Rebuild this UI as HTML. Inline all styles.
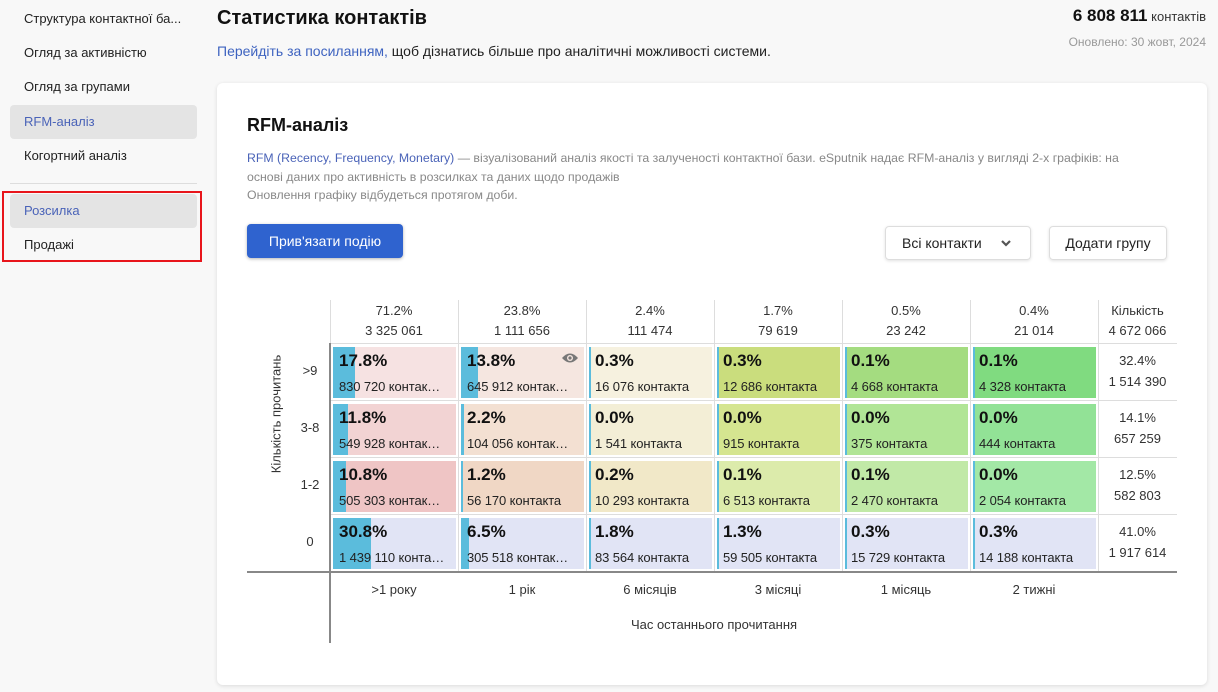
<!DOCTYPE html>
<html><head><meta charset="utf-8"><style>
*{margin:0;padding:0;box-sizing:border-box}
body{width:1218px;height:692px;background:#f8f8f8;font-family:"Liberation Sans",Arial,sans-serif;color:#222;position:relative;overflow:hidden}
.a{position:absolute;white-space:nowrap}
.nav{position:absolute;left:10px;width:187px;height:34px;font-size:13px;padding:9px 0 0 14px;color:#222}
.card{position:absolute;left:217px;top:83px;width:990px;height:602px;background:#fff;border-radius:6px;box-shadow:0 1px 4px rgba(0,0,0,.12)}
.c{position:absolute;width:123px;height:51px;overflow:hidden}
.c i{position:absolute;left:0;top:0;bottom:0;background:#5bbcdc;min-width:2px}
.c b{position:absolute;left:6px;top:4px;font-size:17px;font-weight:bold;color:#111}
.c s{position:absolute;left:6px;top:32px;font-size:13px;text-decoration:none;color:#222;letter-spacing:-0.1px}
.hd{position:absolute;width:128px;text-align:center;font-size:13px;line-height:20px;color:#333;top:301px}
.rl{position:absolute;left:290px;width:40px;text-align:center;font-size:13px;color:#333}
.vl{position:absolute;width:1px;background:#ddd}
.hl{position:absolute;height:1px;background:#ddd}
.tot{position:absolute;left:1098px;width:79px;text-align:center;font-size:13px;line-height:21px;color:#333}
.xl{position:absolute;top:582px;width:128px;text-align:center;font-size:13px;color:#333}
</style></head><body>
<div class="nav" style="top:2px">Структура контактної ба...</div>
<div class="nav" style="top:36px">Огляд за активністю</div>
<div class="nav" style="top:70px">Огляд за групами</div>
<div class="nav" style="top:105px;background:#e4e4e4;border-radius:4px;color:#4a63b8">RFM-аналіз</div>
<div class="nav" style="top:139px">Когортний аналіз</div>
<div class="a" style="left:10px;top:183px;width:187px;height:1px;background:#ddd"></div>
<div class="nav" style="top:194px;background:#e4e4e4;border-radius:4px;color:#4a63b8">Розсилка</div>
<div class="nav" style="top:228px">Продажі</div>
<div class="a" style="left:2px;top:191px;width:200px;height:71px;border:2px solid #e8151b"></div>

<div class="a" style="left:217px;top:7px;font-size:20px;font-weight:bold;color:#111">Статистика контактів</div>
<div class="a" style="left:217px;top:43px;font-size:14px;color:#222"><span style="color:#3e63c0">Перейдіть за посиланням,</span> щоб дізнатись більше про аналітичні можливості системи.</div>
<div class="a" style="right:12px;top:6px;font-size:13px;color:#333"><b style="font-size:17px;color:#111">6 808 811</b> контактів</div>
<div class="a" style="right:12px;top:35px;font-size:12px;color:#999">Оновлено: 30 жовт, 2024</div>

<div class="card"></div>
<div class="a" style="left:247px;top:115px;font-size:18px;font-weight:bold;color:#111">RFM-аналіз</div>
<div class="a" style="left:247px;top:149px;font-size:12.3px;line-height:18.5px;color:#888"><span style="color:#4a63b8">RFM (Recency, Frequency, Monetary)</span> — візуалізований аналіз якості та залученості контактної бази. eSputnik надає RFM-аналіз у вигляді 2-х графіків: на<br>основі даних про активність в розсилках та даних щодо продажів<br>Оновлення графіку відбудеться протягом доби.</div>
<div class="a" style="left:247px;top:224px;width:156px;height:34px;background:#2f63cf;border-radius:4px;color:#fff;font-size:14px;text-align:center;line-height:34px;box-shadow:0 1px 3px rgba(0,0,0,.3)">Прив'язати подію</div>
<div class="a" style="left:885px;top:226px;width:146px;height:34px;border:1px solid #ddd;border-radius:4px;font-size:14px;line-height:32px;padding-left:16px;box-shadow:0 1px 3px rgba(0,0,0,.12)">Всі контакти
<svg style="position:absolute;left:114px;top:12px" width="12" height="8" viewBox="0 0 12 8"><path d="M2 2 L6 6 L10 2" stroke="#555" stroke-width="2.2" fill="none"/></svg></div>
<div class="a" style="left:1049px;top:226px;width:118px;height:34px;border:1px solid #ddd;border-radius:4px;font-size:14px;line-height:32px;text-align:center;box-shadow:0 1px 3px rgba(0,0,0,.12)">Додати групу</div>

<!-- grid lines -->
<div class="vl" style="left:458px;top:300px;height:271px"></div>
<div class="vl" style="left:586px;top:300px;height:271px"></div>
<div class="vl" style="left:714px;top:300px;height:271px"></div>
<div class="vl" style="left:842px;top:300px;height:271px"></div>
<div class="vl" style="left:970px;top:300px;height:271px"></div>
<div class="vl" style="left:1098px;top:300px;height:271px"></div>
<div class="vl" style="left:330px;top:300px;height:43px"></div>
<div class="hl" style="left:330px;top:343px;width:847px"></div>
<div class="hl" style="left:330px;top:400px;width:847px"></div>
<div class="hl" style="left:330px;top:457px;width:847px"></div>
<div class="hl" style="left:330px;top:514px;width:847px"></div>
<div class="a" style="left:329px;top:343px;width:2px;height:300px;background:#888"></div>
<div class="a" style="left:247px;top:571px;width:930px;height:2px;background:#888"></div>

<div class="hd" style="left:330px">71.2%<br>3 325 061</div>
<div class="hd" style="left:458px">23.8%<br>1 111 656</div>
<div class="hd" style="left:586px">2.4%<br>111 474</div>
<div class="hd" style="left:714px">1.7%<br>79 619</div>
<div class="hd" style="left:842px">0.5%<br>23 242</div>
<div class="hd" style="left:970px">0.4%<br>21 014</div>
<div class="hd" style="left:1098px;width:79px">Кількість<br>4 672 066</div>

<div class="a" style="left:276px;top:414px;transform:translate(-50%,-50%) rotate(-90deg);font-size:13px;color:#333">Кількість прочитань</div>
<div class="rl" style="top:363px">&gt;9</div>
<div class="rl" style="top:420px">3-8</div>
<div class="rl" style="top:477px">1-2</div>
<div class="rl" style="top:534px">0</div>

<div class="tot" style="top:350px">32.4%<br>1 514 390</div>
<div class="tot" style="top:407px">14.1%<br>657 259</div>
<div class="tot" style="top:464px">12.5%<br>582 803</div>
<div class="tot" style="top:521px">41.0%<br>1 917 614</div>

<!-- row >9 -->
<div class="c" style="left:333px;top:347px;background:#f6e2e2"><i style="width:22px"></i><b>17.8%</b><s>830 720 контак…</s></div>
<div class="c" style="left:461px;top:347px;background:#f5e6e0"><i style="width:17px"></i><b>13.8%</b><s>645 912 контак…</s>
<svg style="position:absolute;right:5px;top:5px" width="18" height="12" viewBox="0 0 18 12"><path d="M1 6 Q9 -3 17 6 Q9 15 1 6Z" fill="#777"/><circle cx="9" cy="6" r="3" fill="#f5e6e0"/><circle cx="9" cy="6" r="1.6" fill="#777"/></svg></div>
<div class="c" style="left:589px;top:347px;background:#f6f1df"><i></i><b>0.3%</b><s>16 076 контакта</s></div>
<div class="c" style="left:717px;top:347px;background:#cadd7d"><i></i><b>0.3%</b><s>12 686 контакта</s></div>
<div class="c" style="left:845px;top:347px;background:#a4dc80"><i></i><b>0.1%</b><s>4 668 контакта</s></div>
<div class="c" style="left:973px;top:347px;background:#80db80"><i></i><b>0.1%</b><s>4 328 контакта</s></div>
<!-- row 3-8 -->
<div class="c" style="left:333px;top:404px;background:#f2d3d3"><i style="width:15px"></i><b>11.8%</b><s>549 928 контак…</s></div>
<div class="c" style="left:461px;top:404px;background:#f3e0d2"><i style="width:3px"></i><b>2.2%</b><s>104 056 контак…</s></div>
<div class="c" style="left:589px;top:404px;background:#f3eed6"><i></i><b>0.0%</b><s>1 541 контакта</s></div>
<div class="c" style="left:717px;top:404px;background:#d5e590"><i></i><b>0.0%</b><s>915 контакта</s></div>
<div class="c" style="left:845px;top:404px;background:#b1e596"><i></i><b>0.0%</b><s>375 контакта</s></div>
<div class="c" style="left:973px;top:404px;background:#92e296"><i></i><b>0.0%</b><s>444 контакта</s></div>
<!-- row 1-2 -->
<div class="c" style="left:333px;top:461px;background:#efc5c5"><i style="width:13px"></i><b>10.8%</b><s>505 303 контак…</s></div>
<div class="c" style="left:461px;top:461px;background:#f0d7c5"><i style="width:2px"></i><b>1.2%</b><s>56 170 контакта</s></div>
<div class="c" style="left:589px;top:461px;background:#f1e8c8"><i></i><b>0.2%</b><s>10 293 контакта</s></div>
<div class="c" style="left:717px;top:461px;background:#dcebab"><i></i><b>0.1%</b><s>6 513 контакта</s></div>
<div class="c" style="left:845px;top:461px;background:#c1e9a7"><i></i><b>0.1%</b><s>2 470 контакта</s></div>
<div class="c" style="left:973px;top:461px;background:#a3e8a6"><i></i><b>0.0%</b><s>2 054 контакта</s></div>
<!-- row 0 -->
<div class="c" style="left:333px;top:518px;background:#e1e4f5"><i style="width:38px"></i><b>30.8%</b><s>1 439 110 конта…</s></div>
<div class="c" style="left:461px;top:518px;background:#e1e4f5"><i style="width:8px"></i><b>6.5%</b><s>305 518 контак…</s></div>
<div class="c" style="left:589px;top:518px;background:#e1e4f5"><i></i><b>1.8%</b><s>83 564 контакта</s></div>
<div class="c" style="left:717px;top:518px;background:#e1e4f5"><i></i><b>1.3%</b><s>59 505 контакта</s></div>
<div class="c" style="left:845px;top:518px;background:#e1e4f5"><i></i><b>0.3%</b><s>15 729 контакта</s></div>
<div class="c" style="left:973px;top:518px;background:#e1e4f5"><i></i><b>0.3%</b><s>14 188 контакта</s></div>

<div class="xl" style="left:330px">&gt;1 року</div>
<div class="xl" style="left:458px">1 рік</div>
<div class="xl" style="left:586px">6 місяців</div>
<div class="xl" style="left:714px">3 місяці</div>
<div class="xl" style="left:842px">1 місяць</div>
<div class="xl" style="left:970px">2 тижні</div>
<div class="a" style="left:330px;width:768px;top:617px;text-align:center;font-size:13px;color:#333">Час останнього прочитання</div>
</body></html>
